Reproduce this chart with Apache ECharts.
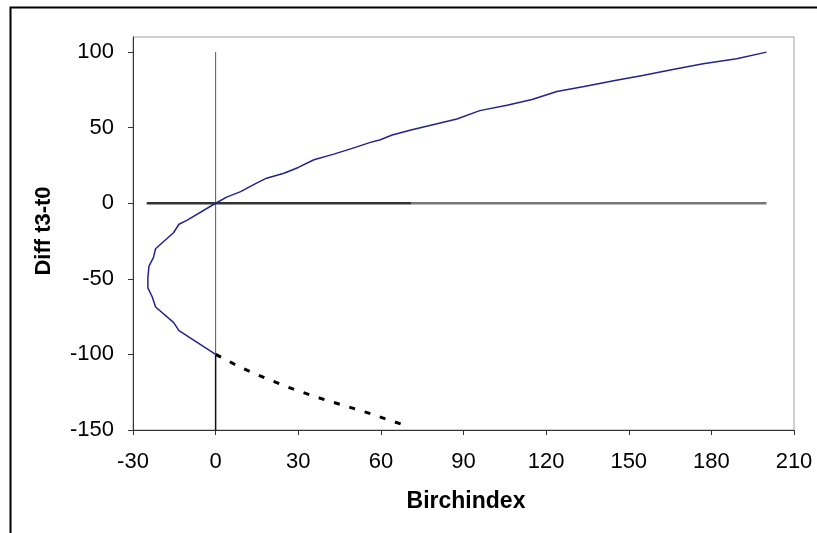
<!DOCTYPE html>
<html>
<head>
<meta charset="utf-8">
<script src="https://cdn.jsdelivr.net/npm/echarts@6/dist/echarts.min.js"></script>
<style>
html,body{margin:0;padding:0;background:#fff;}
#chart{width:817px;height:533px;}
</style>
</head>
<body>
<div id="chart"></div>
<script>
// X ticks / Y ticks
const xTicks = [-30, 0, 30, 60, 90, 120, 150, 180, 210];
const yTicks = [-150, -100, -50, 0, 50, 100];
const yMax = 110;

// Blue curve (Birchindex, Diff t3-t0)
const curveX = [0, -13.3, -15.3, -21.8, -23, -24.6, -24.6, -24.2, -22.6, -21.8, -15.3, -13.3, -10.3, 0,
  4.2, 9.1, 14.5, 18.5, 24.8, 30, 35.7, 42.9, 49.6, 56.2, 59.8, 64.1, 71.3, 87.6, 95.9, 105.8, 114.9,
  123.9, 133.8, 145, 155, 166, 177, 189.2, 200];
const curveY = [-100, -84.3, -78.8, -68.6, -62, -56, -49.4, -41.6, -36, -30.1, -19.5, -13.9, -11.1, 0,
  4.2, 7.7, 13, 16.6, 19.9, 23.7, 28.8, 32.5, 36.3, 40.3, 42, 45.2, 48.7, 55.8, 61.3, 64.9, 68.6,
  73.9, 77.2, 81.2, 84.6, 88.5, 92.3, 95.6, 100];

// Dashed continuation
const dashX = [0, 9, 18.7, 27.5, 36.9, 46, 55, 62, 68.3];
const dashY = [-100, -108.5, -116.2, -122.5, -128.4, -133.5, -138.5, -142.8, -146.7];

// Reference lines
const vLineUpperX = [0, 0];
const vLineUpperY = [-100, 100];
const vLineLowerX = [0, 0];
const vLineLowerY = [-150, -100];
const hLineDarkX = [-25, 71];
const hLineDarkY = [0, 0];
const hLineGrayX = [71, 200];
const hLineGrayY = [0, 0];

const zip = (xs, ys) => xs.map((x, i) => [x, ys[i]]);

const chart = echarts.init(document.getElementById('chart'), null, {renderer: 'canvas'});
const font = '"Liberation Sans", Arial, sans-serif';

const option = {
  backgroundColor: '#fff',
  animation: false,
  grid: {left: 133, top: 37, right: 23, bottom: 103, show: true, borderColor: '#a0a0a0', borderWidth: 1, backgroundColor: 'transparent'},
  xAxis: {
    type: 'value', min: xTicks[0], max: xTicks[xTicks.length - 1], interval: 30,
    splitLine: {show: false},
    axisLine: {show: true, onZero: false, lineStyle: {color: '#333', width: 1}},
    axisTick: {show: true, inside: false, length: 5, lineStyle: {color: '#333'}},
    axisLabel: {color: '#000', fontSize: 22, fontFamily: font, margin: 21}
  },
  yAxis: {
    type: 'value', min: yTicks[0], max: yMax, interval: 50,
    splitLine: {show: false},
    axisLine: {show: true, onZero: false, lineStyle: {color: '#333', width: 1}},
    axisTick: {show: true, inside: false, length: 5, lineStyle: {color: '#333'}, customValues: yTicks},
    axisLabel: {color: '#000', fontSize: 22, fontFamily: font, margin: 19, customValues: yTicks}
  },
  graphic: [
    {type: 'rect', left: 8, top: 5, shape: {width: 900, height: 600}, style: {fill: 'none', stroke: '#000', lineWidth: 2}, z: 100, silent: true},
    {type: 'text', x: 44, y: 231, rotation: Math.PI / 2, style: {text: 'Diff t3-t0', font: 'bold 22px ' + font, fill: '#000', textAlign: 'center', textVerticalAlign: 'middle'}},
    {type: 'text', x: 466, y: 502, style: {text: 'Birchindex', font: 'bold 23px ' + font, fill: '#000', textAlign: 'center', textVerticalAlign: 'middle'}}
  ],
  series: [
    {type: 'line', data: zip(vLineUpperX, vLineUpperY), showSymbol: false, lineStyle: {color: '#555', width: 1}, z: 2},
    {type: 'line', data: zip(vLineLowerX, vLineLowerY), showSymbol: false, lineStyle: {color: '#111', width: 1.5}, z: 2},
    {type: 'line', data: zip(hLineGrayX, hLineGrayY), showSymbol: false, lineStyle: {color: '#777', width: 2.5}, z: 2},
    {type: 'line', data: zip(hLineDarkX, hLineDarkY), showSymbol: false, lineStyle: {color: '#333', width: 2.5}, z: 2},
    {type: 'line', data: zip(dashX, dashY), showSymbol: false, lineStyle: {color: '#000', width: 3, type: [6, 10]}, z: 3},
    {type: 'line', data: zip(curveX, curveY), showSymbol: false, lineStyle: {color: '#23238e', width: 1.5}, z: 4}
  ]
};
chart.setOption(option);
</script>
</body>
</html>
